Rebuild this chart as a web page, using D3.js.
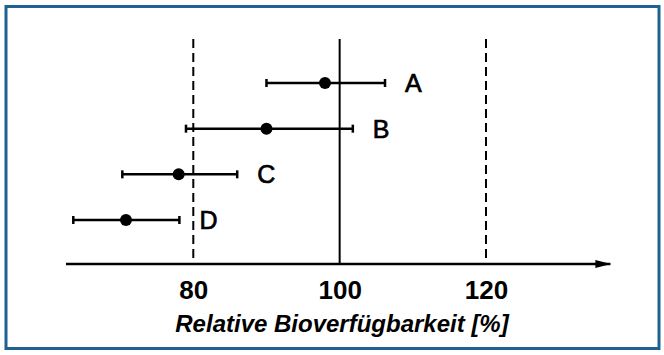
<!DOCTYPE html>
<html>
<head>
  <meta charset="UTF-8">
  <style>
    body { margin: 0; background: #fff; }
    svg { display: block; }
  </style>
</head>
<body>
<div id="chart_div"></div>
<script src="https://d3js.org/d3.v7.min.js"></script>
<script>

// Data
const formulations = ["A", "B", "C", "D"];
const meanValues  = [98, 90, 78, 70.8];
const lowerValues = [90, 79, 70.3, 63.6];
const upperValues = [106.2, 101.8, 86, 78.1];
const tickValues  = [80, 100, 120];
const limitValues = [80, 120];   // dashed acceptance limits
const referenceValue = 100;
const axisExtent = [62.6, 137];
const xTitle = "Relative Bioverfügbarkeit [%]";

let width = 664, height = 355;

let svg = d3.select("#chart_div")
    .append("svg")
    .attr("width", width)
    .attr("height", height);

// frame
svg.append("rect")
    .attr("x", 6)
    .attr("y", 6.5)
    .attr("width", 653)
    .attr("height", 342)
    .attr("fill", "white")
    .attr("stroke", "#1d6291")
    .attr("stroke-width", 3);

// scales
let x = d3.scaleLinear().domain([80, 120]).range([193.3, 486]);
let y = d3.scalePoint().domain(formulations).range([83, 220]);

const axisY = 264;
const lineTop = 39;

let rows = formulations.map((f, i) => ({
  name: f, mean: meanValues[i], lo: lowerValues[i], hi: upperValues[i]
}));

// dashed limit lines
svg.append("g")
  .selectAll("line")
  .data(limitValues)
  .enter()
    .append("line")
    .attr("x1", d => x(d))
    .attr("x2", d => x(d))
    .attr("y1", lineTop)
    .attr("y2", axisY)
    .attr("stroke", "black")
    .attr("stroke-width", 2)
    .attr("stroke-dasharray", "9,5");

// reference line at 100
svg.append("line")
    .attr("x1", x(referenceValue))
    .attr("x2", x(referenceValue))
    .attr("y1", lineTop)
    .attr("y2", axisY)
    .attr("stroke", "black")
    .attr("stroke-width", 2);

// arrow marker
svg.append("defs")
  .append("marker")
    .attr("id", "arrow")
    .attr("viewBox", [0, 0, 16, 10])
    .attr("refX", 15)
    .attr("refY", 5)
    .attr("markerUnits", "userSpaceOnUse")
    .attr("markerWidth", 16)
    .attr("markerHeight", 10)
    .attr("orient", "auto")
  .append("path")
    .attr("d", d3.line()([[0, 1], [16, 5], [0, 9], [0, 1]]))
    .attr("fill", "black");

// x axis line with arrow
svg.append("line")
    .attr("x1", x(axisExtent[0]))
    .attr("x2", x(axisExtent[1]))
    .attr("y1", axisY)
    .attr("y2", axisY)
    .attr("stroke", "black")
    .attr("stroke-width", 2.5)
    .attr("marker-end", "url(#arrow)");

// tick labels
let axis = svg.append("g")
    .attr("transform", "translate(0," + axisY + ")")
    .call(d3.axisBottom(x).tickValues(tickValues).tickSize(0).tickFormat(d3.format("d")));
axis.select(".domain").remove();
axis.selectAll("text")
    .attr("y", 35)
    .attr("dy", 0)
    .attr("font-family", "'Liberation Sans Narrow', 'Liberation Sans', Arial, sans-serif")
    .attr("font-weight", "bold")
    .attr("font-size", 26)
    .attr("fill", "black");

// axis title
svg.append("text")
    .attr("x", 342)
    .attr("y", 332)
    .attr("text-anchor", "middle")
    .attr("font-family", "'Liberation Sans', Arial, sans-serif")
    .attr("font-weight", "bold")
    .attr("font-style", "italic")
    .attr("font-size", 24)
    .text(xTitle);

// error bars
let bars = svg.append("g")
  .selectAll("g")
  .data(rows)
  .enter()
    .append("g");

bars.append("line")
    .attr("x1", d => x(d.lo))
    .attr("x2", d => x(d.hi))
    .attr("y1", d => y(d.name))
    .attr("y2", d => y(d.name))
    .attr("stroke", "black")
    .attr("stroke-width", 2.5);

bars.selectAll(".cap")
  .data(d => [{ v: d.lo, n: d.name }, { v: d.hi, n: d.name }])
  .enter()
    .append("line")
    .attr("class", "cap")
    .attr("x1", d => x(d.v))
    .attr("x2", d => x(d.v))
    .attr("y1", d => y(d.n) - 4)
    .attr("y2", d => y(d.n) + 4)
    .attr("stroke", "black")
    .attr("stroke-width", 2.5);

bars.append("circle")
    .attr("cx", d => x(d.mean))
    .attr("cy", d => y(d.name))
    .attr("r", 6)
    .attr("fill", "black");

// labels, a bit heavier than the regular face
bars.append("text")
    .attr("x", d => x(d.hi) + 20)
    .attr("y", d => y(d.name) + 9)
    .attr("font-family", "'Liberation Sans Narrow', 'Liberation Sans', Arial, sans-serif")
    .attr("font-size", 25)
    .attr("fill", "black")
    .attr("stroke", "black")
    .attr("stroke-width", 0.7)
    .text(d => d.name);

</script>
</body>
</html>
